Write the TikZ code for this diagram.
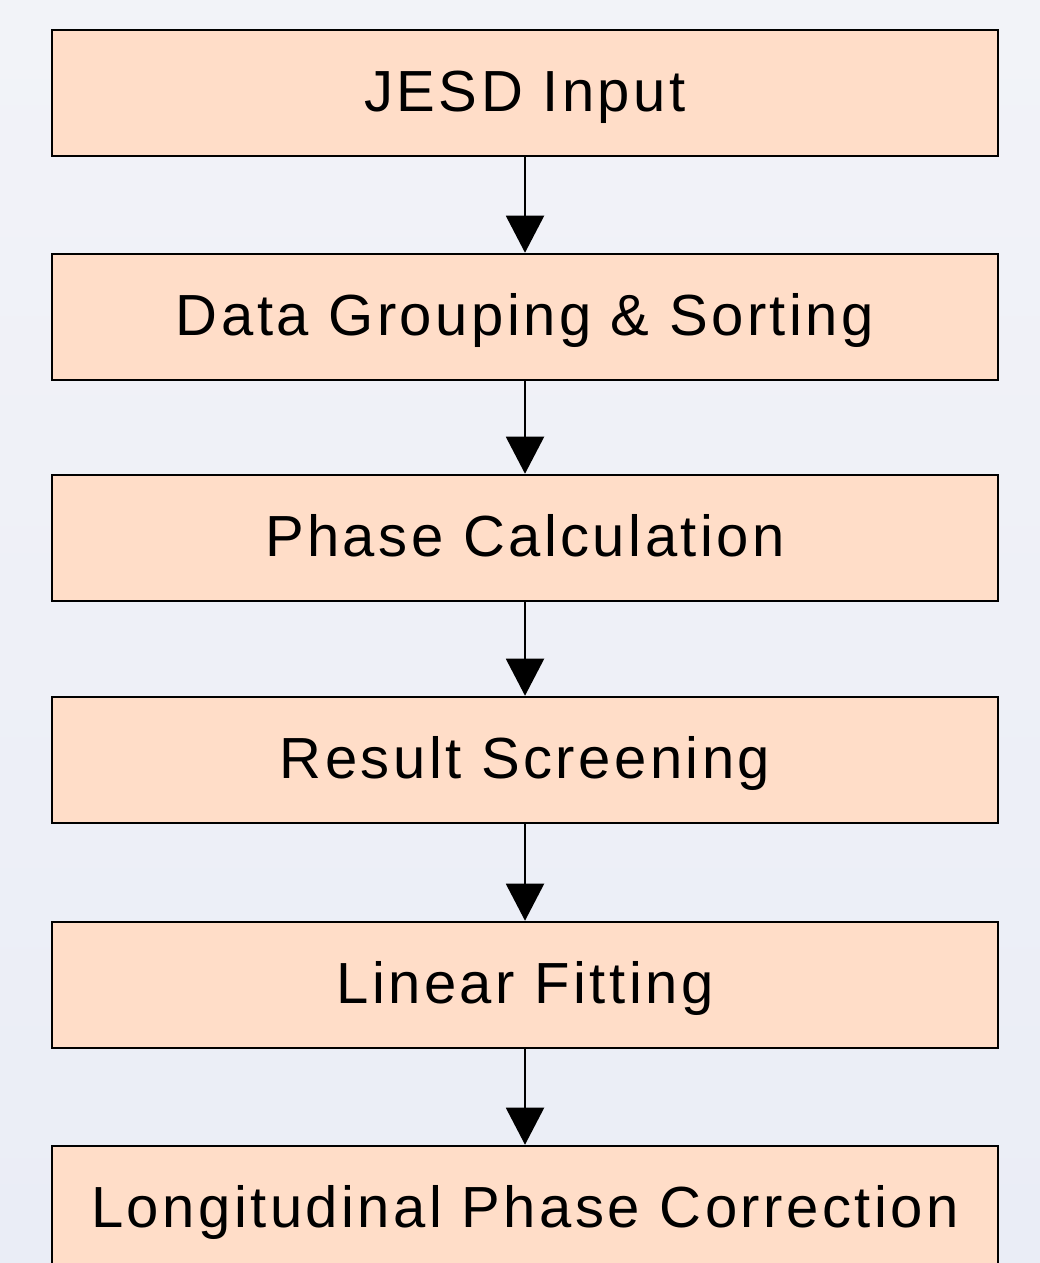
\documentclass[tikz,border=0pt]{standalone}
\usepackage{fontspec}
\setmainfont{Liberation Sans}
\newfontfamily\boxfont[LetterSpace=6]{Liberation Sans}
\usetikzlibrary{arrows.meta}
\definecolor{bgtop}{HTML}{F2F3F8}
\definecolor{bgbot}{HTML}{EAEDF6}
\definecolor{boxfill}{HTML}{FFDDC8}
\tikzset{
  stepbox/.style={draw=black, fill=boxfill, line width=2.5pt, minimum width=946pt, minimum height=126pt, inner sep=0pt, text height=50pt, text depth=12pt, font=\boxfont\fontsize{58}{60}\selectfont, text=black},
  flow/.style={line width=2pt, -{Triangle[width=38pt,length=37pt]}}
}
\begin{document}
\begin{tikzpicture}[x=1pt,y=1pt]
\useasboundingbox (0,0) rectangle (1040,1263);
\shade[top color=bgtop, bottom color=bgbot] (0,0) rectangle (1040,1263);
\begin{scope}
\clip (0,0) rectangle (1040,1263);
\node[stepbox] (a) at (525,1170) {JESD Input};
\node[stepbox] (b) at (525,946) {Data Grouping \& Sorting};
\node[stepbox] (c) at (525,725) {Phase Calculation};
\node[stepbox] (d) at (525,503) {Result Screening};
\node[stepbox] (e) at (525,278) {Linear Fitting};
\node[stepbox] (f) at (525,54) {Longitudinal Phase Correction};
\draw[flow] (a) -- (b);
\draw[flow] (b) -- (c);
\draw[flow] (c) -- (d);
\draw[flow] (d) -- (e);
\draw[flow] (e) -- (f);
\end{scope}
\end{tikzpicture}
\end{document}
